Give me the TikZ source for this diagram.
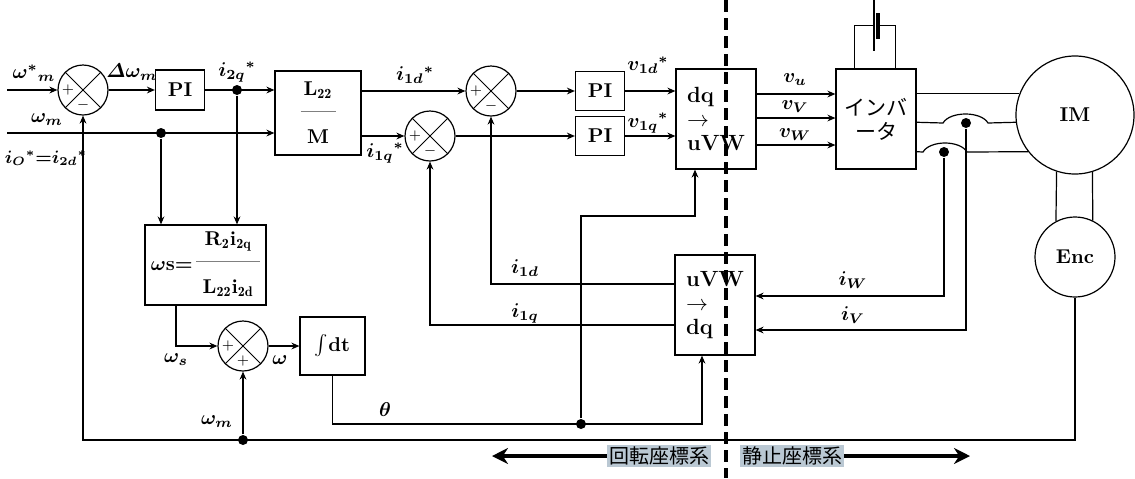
\documentclass[tikz,border=0pt]{standalone}
\usepackage{amsmath}
\usepackage{amssymb}
\usepackage{fontspec}
\newfontfamily\jpfont{Noto Sans CJK JP}
\usetikzlibrary{arrows.meta}
\definecolor{tagbg}{HTML}{BAC8D3}

\begin{document}
\begin{tikzpicture}[x=.5pt,y=-.5pt,line width=.6pt,>={Stealth[length=4pt,width=3.4pt]},
	blk/.style={draw,inner sep=0pt,font=\bfseries},
	sumc/.style={circle,draw,minimum size=25pt,inner sep=0pt},
	sgn/.style={inner sep=0pt,font=\scriptsize},
	dot/.style={circle,fill,minimum size=5pt,inner sep=0pt},
	lbl/.style={inner sep=1pt,font=\boldmath},
	tag/.style={fill=tagbg,inner sep=.8pt,font=\jpfont\fontsize{10}{12}\selectfont}]

	\useasboundingbox (0,0) rectangle (1135,478);

	\node[sumc] (s1) at (83,90) {};
	\node[sumc] (s2) at (243,346) {};
	\node[sumc] (s3) at (491,91) {};
	\node[sumc] (s4) at (430,136) {};
	\foreach \s in {s1,s2,s3,s4}
		\draw[line width=.4pt] (\s.north west) -- (\s.south east) (\s.north east) -- (\s.south west);
	\foreach \s/\g in {s1/$-$,s2/$+$,s3/$-$,s4/$-$}{
		\node[sgn] (\s p) at ([xshift=-7.5pt]\s.center) {$+$};
		\node[sgn] (\s m) at ([yshift=-7.5pt]\s.center) {\g};
	}

	\node[blk,minimum width=24.5pt,minimum height=20pt] (pi1) at (180,90) {PI};
	\node[blk,minimum width=43pt,minimum height=42pt,align=center] (L) at (318,113)
		{L$_{\mathbf{22}}$\\[-1pt]{\color{gray}\rule[3pt]{17.5pt}{.4pt}}\\[1pt]M};
	\node[blk,minimum width=60.5pt,minimum height=40pt] (ws) at (205.5,265)
		{$\boldsymbol{\omega}$s=\,\begin{tabular}{@{}c@{}}R$_{\mathbf{2}}$i$_{\mathbf{2q}}$\\[-1pt]{\color{gray}\rule[3pt]{32pt}{.4pt}}\\[1pt]L$_{\mathbf{22}}$i$_{\mathbf{2d}}$\end{tabular}};
	\node[blk,minimum width=32.5pt,minimum height=29pt] (int) at (332.5,346) {$\int$dt};
	\node[blk,minimum width=24.5pt,minimum height=19.5pt] (pid) at (600,91) {PI};
	\node[blk,minimum width=24.5pt,minimum height=19.5pt] (piq) at (600,136) {PI};
	\node[blk,minimum width=40pt,minimum height=50pt,align=left,font=\fontsize{11}{12}\bfseries] (dq) at (716,119) {dq\\$\rightarrow$\\uVW};
	\node[blk,minimum width=40pt,minimum height=50pt,align=left,font=\fontsize{11}{12}\bfseries] (uvw) at (715,305) {uVW\\$\rightarrow$\\dq};
	\node[blk,minimum width=40pt,minimum height=50pt,align=center,font=\jpfont\fontsize{10.5}{12}\selectfont] (inv) at (876,119) {インバ\\ータ};
	\node[circle,draw,minimum size=59pt,inner sep=0pt,font=\bfseries] (IM) at (1075,115) {IM};
	\node[circle,draw,minimum size=40pt,inner sep=0pt,font=\bfseries] (Enc) at (1075,257) {Enc};

	\node[dot] (d1) at (237,90) {};
	\node[dot] (d2) at (161,133) {};
	\node[dot] (d3) at (581,424) {};
	\node[dot] (d4) at (243,440) {};
	\node[dot] (d5) at (966,123) {};
	\node[dot] (d6) at (944,152) {};
	\coordinate (wr) at (7,90);
	\coordinate (wm) at (7,133);
	\coordinate (th) at (581,216);

	\draw[->] (wr) -- (s1);
	\draw[->] (s1) -- (pi1);
	\draw[->] (pi1) -- (pi1 -| L.west);
	\draw[->] (wm) -- (wm -| L.west);
	\draw[->] (d1) -- (d1 |- ws.north);
	\draw[->] (d2) -- (d2 |- ws.north);
	\draw[->] (Enc) -- (Enc |- d4) -- (s1 |- d4) -- (s1);
	\draw[->] (d4) -- (s2);
	\draw[->] ([xshift=-14.75pt]ws.south) |- (s2);
	\draw[->] (s2) -- (int);
	\draw[->] (int) |- (d3.center) -| ([xshift=-6.5pt]uvw.south);
	\draw[->] (d3) -- (th) -| ([xshift=-10.5pt]dq.south);

	\draw[->] (L.east |- s3) -- (s3);
	\draw[->] (L.east |- s4) -- (s4);
	\draw[->] (s3) -- (pid);
	\draw[->] (s4) -- (piq);
	\draw[->] (pid) -- (pid -| dq.west);
	\draw[->] (piq) -- (piq -| dq.west);
	\draw[->] ([yshift=10.5pt]uvw.west) -| (s3);
	\draw[->] ([yshift=-10pt]uvw.west) -| (s4);
	\foreach \dy in {12.5,.5,-13}
		\draw[->] ([yshift=\dy pt]dq.east) -- ([yshift=\dy pt]inv.west);

	\draw (IM.159.15 -| inv.east) -- (IM.159.15);
	\draw (IM.187.8 -| inv.east) -- (943,123) .. controls (950,111) and (981,111) .. (988,123) -- (IM.187.8);
	\draw (IM.218.8 -| inv.east) -- (923,152) .. controls (930,140) and (960,140) .. (967,152) -- (IM.218.8);
	\draw[->] (d6) |- ([yshift=4.5pt]uvw.east);
	\draw[->] (d5) |- ([yshift=-12.5pt]uvw.east);
	\draw (IM.-108.8) -- (Enc.118.4) (IM.-73.25) -- (Enc.64.85);

	\draw (inv.north west) ++(19,0) -- ++(0,-43) -- ++(19,0);
	\draw (inv.north east) ++(-21,0) -- ++(0,-43) -- ++(-17,0);
	\draw (874,0) -- (874,51);
	\draw[line width=1.6pt] (878,13) -- (878,39);

	\draw[line width=2pt,dash pattern=on 6pt off 3pt] (726,0) -- (726,478);

	\node[tag] (rot) at (659,456) {回転座標系};
	\node[tag] (sta) at (792,456) {静止座標系};
	\coordinate (rote) at (492,456);
	\coordinate (stae) at (970,456);
	\draw[line width=2pt,-{Stealth[length=8pt,width=8pt]}] (rot) -- (rote);
	\draw[line width=2pt,-{Stealth[length=8pt,width=8pt]}] (sta) -- (stae);

	\node[lbl] (lwr) at (34,73) {$\omega^{*}{}_{m}$};
	\node[lbl,inner sep=0pt] (ldw) at (132,72) {$\varDelta\omega_m$};
	\node[lbl] (li2q) at (237,72) {$i_{2q}{}^{*}$};
	\node[lbl] (lwm) at (47,120) {$\omega_m$};
	\node[lbl,font=\boldmath\fontsize{9}{10}\selectfont] (lio) at (46,158) {$i_{O}{}^{*}{=}i_{2d}{}^{*}$};
	\node[lbl] (li1dr) at (415,75) {$i_{1d}{}^{*}$};
	\node[lbl] (li1qr) at (385,153) {$i_{1q}{}^{*}$};
	\node[lbl] (lv1d) at (648,65) {$v_{1d}{}^{*}$};
	\node[lbl] (lv1q) at (648,123) {$v_{1q}{}^{*}$};
	\node[lbl] (lvu) at (795,80) {$v_u$};
	\node[lbl] (lvv) at (795,107) {$v_V$};
	\node[lbl] (lvw) at (795,135) {$v_W$};
	\node[lbl] (liw) at (853,280) {$i_W$};
	\node[lbl] (liv) at (853,315) {$i_V$};
	\node[lbl] (li1d) at (525,268) {$i_{1d}$};
	\node[lbl] (li1q) at (525,313) {$i_{1q}$};
	\node[lbl] (lws) at (176,360) {$\omega_s$};
	\node[lbl] (lw) at (280,360) {$\omega$};
	\node[lbl] (lth) at (385,410) {$\theta$};
	\node[lbl] (lwm2) at (217,422) {$\omega_m$};

\end{tikzpicture}
\end{document}
